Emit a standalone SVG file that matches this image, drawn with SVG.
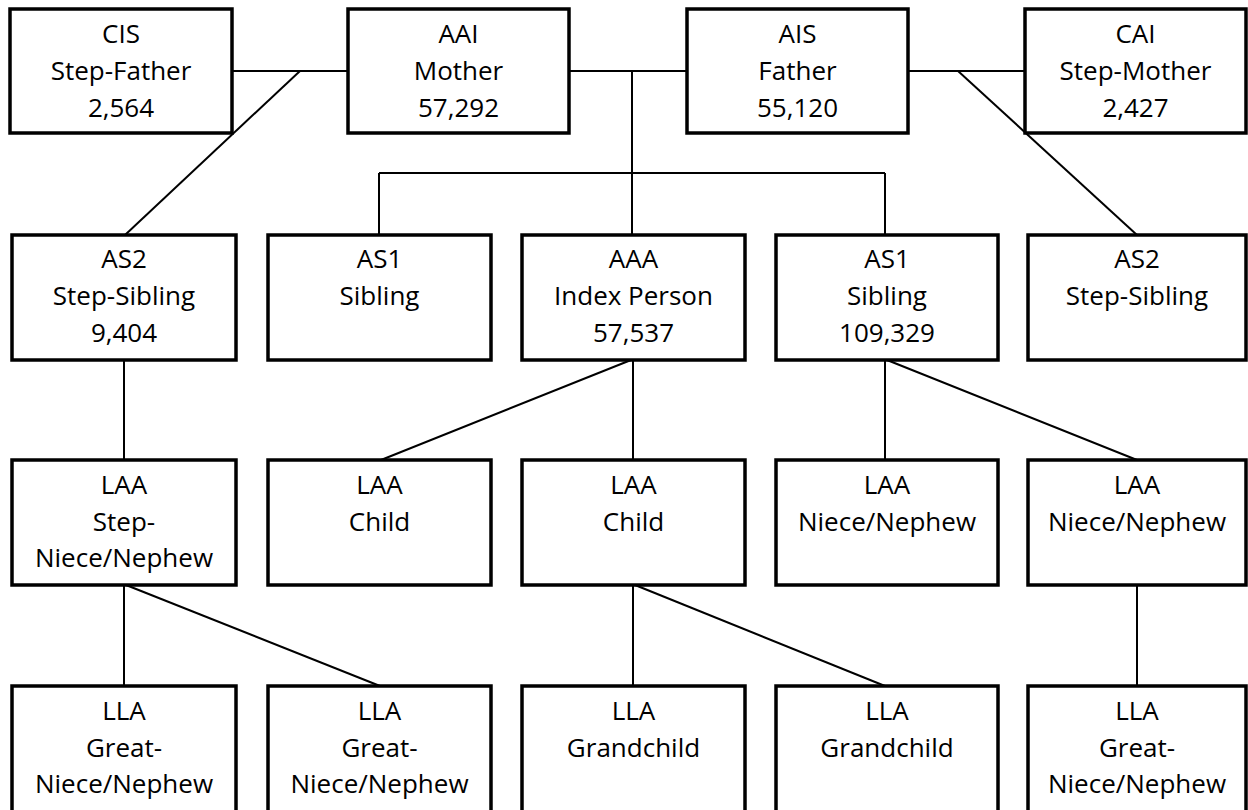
<svg xmlns="http://www.w3.org/2000/svg" width="1248" height="810" viewBox="0 0 1248 810">
<style>
rect{fill:#fff;stroke:#000;stroke-width:3.5}
text{font-family:"Open Sans","Liberation Sans",Arial,sans-serif;font-size:26px;fill:#000;text-anchor:middle}
#connectors line{stroke:#000;stroke-width:2}
</style>
<rect x="0" y="0" width="1248" height="810" style="stroke:none"/>
<g id="connectors">
<line x1="232" y1="71" x2="348" y2="71"/>
<line x1="300" y1="71" x2="125" y2="235"/>
<line x1="569" y1="71" x2="687" y2="71"/>
<line x1="632" y1="71" x2="632" y2="235"/>
<line x1="379" y1="173" x2="885" y2="173"/>
<line x1="379" y1="173" x2="379" y2="235"/>
<line x1="885" y1="173" x2="885" y2="235"/>
<line x1="908" y1="71" x2="1025" y2="71"/>
<line x1="958" y1="71" x2="1137" y2="235"/>
<line x1="124" y1="360" x2="124" y2="460"/>
<line x1="633" y1="360" x2="633" y2="460"/>
<line x1="631" y1="360" x2="381" y2="460"/>
<line x1="885" y1="360" x2="885" y2="460"/>
<line x1="887" y1="360" x2="1137" y2="460"/>
<line x1="124" y1="585" x2="124" y2="686"/>
<line x1="126" y1="585" x2="380" y2="686"/>
<line x1="633" y1="585" x2="633" y2="686"/>
<line x1="635" y1="585" x2="885" y2="686"/>
<line x1="1137" y1="585" x2="1137" y2="686"/>
</g>
<g id="cis"><rect x="10" y="9" width="222" height="124"/><text x="121" y="43">CIS</text><text x="121" y="80">Step-Father</text><text x="121" y="117">2,564</text></g>
<g id="aai"><rect x="348" y="9" width="221" height="124"/><text x="458.5" y="43">AAI</text><text x="458.5" y="80">Mother</text><text x="458.5" y="117">57,292</text></g>
<g id="ais"><rect x="687" y="9" width="221" height="124"/><text x="797.5" y="43">AIS</text><text x="797.5" y="80">Father</text><text x="797.5" y="117">55,120</text></g>
<g id="cai"><rect x="1025" y="9" width="221" height="124"/><text x="1135.5" y="43">CAI</text><text x="1135.5" y="80">Step-Mother</text><text x="1135.5" y="117">2,427</text></g>

<g id="as2-left"><rect x="12" y="235" width="224" height="125"/><text x="124" y="268">AS2</text><text x="124" y="305">Step-Sibling</text><text x="124" y="342">9,404</text></g>
<g id="as1-left"><rect x="268" y="235" width="223" height="125"/><text x="379.5" y="268">AS1</text><text x="379.5" y="305">Sibling</text></g>
<g id="aaa"><rect x="522" y="235" width="223" height="125"/><text x="633.5" y="268">AAA</text><text x="633.5" y="305">Index Person</text><text x="633.5" y="342">57,537</text></g>
<g id="as1-right"><rect x="776" y="235" width="222" height="125"/><text x="887" y="268">AS1</text><text x="887" y="305">Sibling</text><text x="887" y="342">109,329</text></g>
<g id="as2-right"><rect x="1028" y="235" width="218" height="125"/><text x="1137" y="268">AS2</text><text x="1137" y="305">Step-Sibling</text></g>

<g id="laa-step"><rect x="12" y="460" width="224" height="125"/><text x="124" y="494">LAA</text><text x="124" y="531">Step-</text><text x="124" y="567">Niece/Nephew</text></g>
<g id="laa-child1"><rect x="268" y="460" width="223" height="125"/><text x="379.5" y="494">LAA</text><text x="379.5" y="531">Child</text></g>
<g id="laa-child2"><rect x="522" y="460" width="223" height="125"/><text x="633.5" y="494">LAA</text><text x="633.5" y="531">Child</text></g>
<g id="laa-niece1"><rect x="776" y="460" width="222" height="125"/><text x="887" y="494">LAA</text><text x="887" y="531">Niece/Nephew</text></g>
<g id="laa-niece2"><rect x="1028" y="460" width="218" height="125"/><text x="1137" y="494">LAA</text><text x="1137" y="531">Niece/Nephew</text></g>

<g id="lla-great1"><rect x="12" y="686" width="224" height="126"/><text x="124" y="720">LLA</text><text x="124" y="757">Great-</text><text x="124" y="793">Niece/Nephew</text></g>
<g id="lla-great2"><rect x="268" y="686" width="223" height="126"/><text x="379.5" y="720">LLA</text><text x="379.5" y="757">Great-</text><text x="379.5" y="793">Niece/Nephew</text></g>
<g id="lla-grand1"><rect x="522" y="686" width="223" height="126"/><text x="633.5" y="720">LLA</text><text x="633.5" y="757">Grandchild</text></g>
<g id="lla-grand2"><rect x="776" y="686" width="222" height="126"/><text x="887" y="720">LLA</text><text x="887" y="757">Grandchild</text></g>
<g id="lla-great3"><rect x="1028" y="686" width="218" height="126"/><text x="1137" y="720">LLA</text><text x="1137" y="757">Great-</text><text x="1137" y="793">Niece/Nephew</text></g>
</svg>
